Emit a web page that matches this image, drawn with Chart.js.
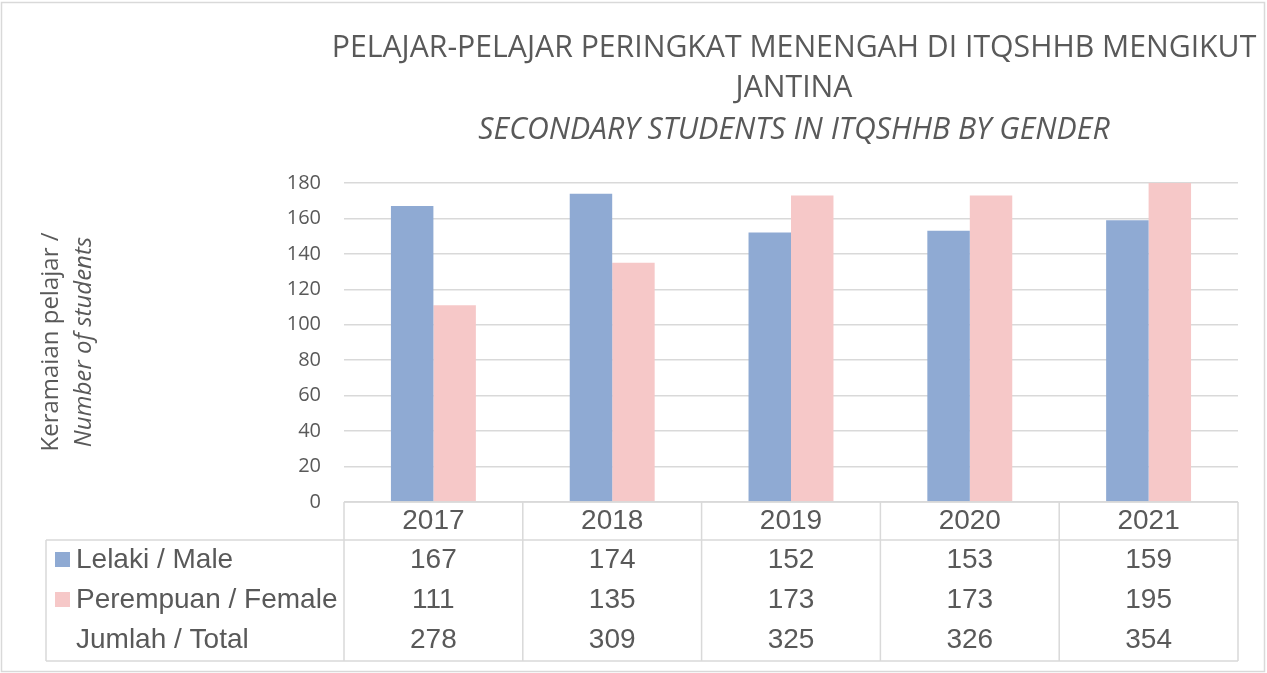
<!DOCTYPE html>
<html>
<head>
<meta charset="utf-8">
<script src="https://cdn.jsdelivr.net/npm/chart.js@4.4.0/dist/chart.umd.min.js"></script>
<style>
    html, body { margin: 0; padding: 0; background: #fff; }
    #wrap { width: 1267px; height: 673px; position: relative; }
</style>
</head>
<body>
<div id="wrap"><canvas id="chart" width="1267" height="673"></canvas></div>
<script>
// Data
const years = ['2017', '2018', '2019', '2020', '2021'];
const male = [167, 174, 152, 153, 159];
const female = [111, 135, 173, 173, 195];
const totals = [278, 309, 325, 326, 354];
const rowLabels = ['Lelaki / Male', 'Perempuan / Female', 'Jumlah / Total'];
const titleLines = ['PELAJAR-PELAJAR PERINGKAT MENENGAH DI ITQSHHB MENGIKUT', 'JANTINA'];
const subtitleLine = 'SECONDARY STUDENTS IN ITQSHHB BY GENDER';
const yTitle = ['Keramaian pelajar /', 'Number of students'];

const MALE_COLOR = '#8FAAD3';
const FEMALE_COLOR = '#F6C8C8';
const TEXT = '#595959';
const LINE = '#D9D9D9';

// Title, axis title, data table and frame
const decorPlugin = {
    id: 'decor',
    afterDraw(chart) {
        const ctx = chart.ctx;
        const x = chart.scales.x;
        const area = chart.chartArea;
        ctx.save();

        // frame
        ctx.strokeStyle = LINE;
        ctx.lineWidth = 1.5;
        ctx.strokeRect(1.5, 2.5, 1263, 669);

        // title
        ctx.fillStyle = TEXT;
        ctx.textAlign = 'center';
        ctx.textBaseline = 'alphabetic';
        ctx.font = '100px "Open Sans"';
        const w100 = ctx.measureText(titleLines[0]).width;
        const tSize = 100 * 925 / w100;
        const cx = 794;
        ctx.font = tSize + 'px "Open Sans"';
        ctx.fillText(titleLines[0], cx, 57);
        ctx.fillText(titleLines[1], cx, 97);
        ctx.font = 'italic ' + tSize + 'px "Open Sans"';
        ctx.fillText(subtitleLine, cx, 139);

        // y axis title
        ctx.save();
        ctx.translate(0, 342);
        ctx.rotate(-Math.PI / 2);
        ctx.font = '24px "Open Sans"';
        ctx.fillText(yTitle[0], 0, 58);
        ctx.font = 'italic 24px "Open Sans"';
        ctx.fillText(yTitle[1], 0, 91);
        ctx.restore();

        // data table
        const n = years.length;
        const cw = (area.right - area.left) / n;
        const top = area.bottom;
        const headBottom = 540;
        const bottom = 661;
        const tableLeft = 46;
        ctx.strokeStyle = LINE;
        ctx.lineWidth = 1.5;
        ctx.beginPath();
        ctx.moveTo(area.left, top); ctx.lineTo(area.right, top);
        ctx.moveTo(tableLeft, headBottom); ctx.lineTo(area.right, headBottom);
        ctx.moveTo(tableLeft, bottom); ctx.lineTo(area.right, bottom);
        ctx.moveTo(tableLeft, headBottom); ctx.lineTo(tableLeft, bottom);
        for (let i = 0; i <= n; i++) {
            const lx = x.getPixelForValue(0) - cw / 2 + i * cw;
            ctx.moveTo(lx, top); ctx.lineTo(lx, bottom);
        }
        ctx.stroke();

        ctx.fillStyle = TEXT;
        ctx.font = '28px "Liberation Sans", Arial, sans-serif';
        ctx.textBaseline = 'middle';
        ctx.textAlign = 'center';
        const rowY = [560, 600, 640];
        const rows = [male, female, totals];
        years.forEach((yr, i) => {
            const px = x.getPixelForValue(i);
            ctx.fillText(yr, px, 521);
            rows.forEach((r, j) => ctx.fillText(String(r[i]), px, rowY[j]));
        });

        ctx.textAlign = 'left';
        const keys = [MALE_COLOR, FEMALE_COLOR, null];
        rowLabels.forEach((lab, j) => {
            if (keys[j]) {
                ctx.fillStyle = keys[j];
                ctx.fillRect(55, rowY[j] - 8, 15, 15);
            }
            ctx.fillStyle = TEXT;
            ctx.fillText(lab, 76, rowY[j]);
        });
        ctx.restore();
    }
};

const ctx = document.getElementById('chart').getContext('2d');
new Chart(ctx, {
    type: 'bar',
    data: {
        labels: years,
        datasets: [{
            label: rowLabels[0],
            data: male,
            backgroundColor: MALE_COLOR,
            borderWidth: 0
        }, {
            label: rowLabels[1],
            data: female,
            backgroundColor: FEMALE_COLOR,
            borderWidth: 0
        }]
    },
    options: {
        responsive: false,
        animation: false,
        devicePixelRatio: 1,
        categoryPercentage: 0.475,
        barPercentage: 1,
        layout: {
            padding: { left: 0, right: 29, top: 183, bottom: 171 }
        },
        plugins: {
            legend: { display: false },
            tooltip: { enabled: false }
        },
        scales: {
            x: {
                display: false
            },
            y: {
                min: 0,
                max: 180,
                afterFit(axis) { axis.width = 344; },
                border: { display: false },
                grid: { color: LINE, lineWidth: 1.5, drawTicks: false },
                ticks: {
                    stepSize: 20,
                    padding: 23,
                    color: TEXT,
                    font: { family: '"Open Sans"', size: 20 }
                }
            }
        }
    },
    plugins: [decorPlugin]
});
</script>
</body>
</html>
